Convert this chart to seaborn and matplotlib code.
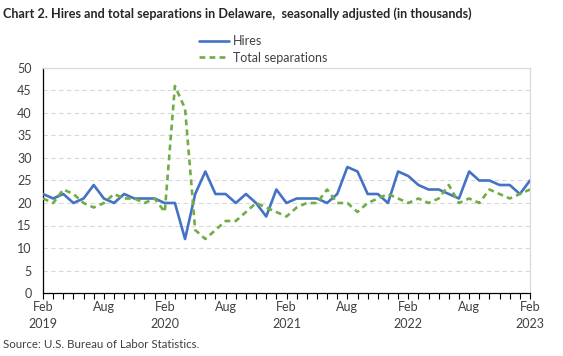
import numpy as np
import pandas as pd
import matplotlib
matplotlib.use("Agg")
import matplotlib.pyplot as plt
import seaborn as sns
from matplotlib.lines import Line2D

months = pd.date_range("2019-02-01", "2023-02-01", freq="MS")
hires = [22, 21, 22, 20, 21, 24, 21, 20, 22, 21, 21, 21,
         20, 20, 12, 22, 27, 22, 22, 20, 22, 20, 17, 23,
         20, 21, 21, 21, 20, 22, 28, 27, 22, 22, 20, 27,
         26, 24, 23, 23, 22, 21, 27, 25, 25, 24, 24, 22,
         25]
separations = [21, 20, 23, 22, 20, 19, 20, 22, 21, 21, 20, 21,
               18, 46, 41, 14, 12, 14, 16, 16, 18, 20, 19, 18,
               17, 19, 20, 20, 23, 20, 20, 18, 20, 21, 22, 21,
               20, 21, 20, 21, 24, 20, 21, 20, 23, 22, 21, 22,
               23]
series_names = ["Hires", "Total separations"]
yticks = list(range(0, 55, 5))
title = "Chart 2. Hires and total separations in Delaware,  seasonally adjusted (in thousands)"
source = "Source: U.S. Bureau of Labor Statistics."

idx = np.arange(len(months))
df = pd.DataFrame({
    "idx": np.concatenate([idx, idx]),
    "value": hires + separations,
    "series": [series_names[0]] * len(idx) + [series_names[1]] * len(idx),
})

sns.set_theme(style="white")
plt.rcParams["font.family"] = ["Lato", "DejaVu Sans"]

fig = plt.figure(figsize=(5.63, 3.56), dpi=100)
ax = fig.add_axes([43 / 563, 1 - 293 / 356, (530 - 43) / 563, (293 - 68) / 356])

sns.lineplot(data=df, x="idx", y="value", hue="series", style="series",
             palette={"Hires": "#4472C4", "Total separations": "#70AD47"},
             dashes={"Hires": "", "Total separations": (2.2, 1.6)},
             linewidth=1.9, ax=ax, legend=False, zorder=3)

ax.set_xlim(0, len(idx) - 1)
ax.set_ylim(0, 50)
ax.set_yticks(yticks)
ax.set_yticklabels([str(t) for t in yticks], fontsize=9, color="#404040")
major = idx[::6]
ax.set_xticks(major)
ax.set_xticklabels([f"{m.strftime('%b')}\n{m.year}" if m.month == 2 else m.strftime('%b')
                    for m in months[::6]], fontsize=9, color="#404040", linespacing=1.5)
ax.set_xticks(idx, minor=True)
ax.tick_params(axis="x", which="both", direction="out", length=4, width=0.8,
               color="black", bottom=True, pad=2)
ax.tick_params(axis="y", length=0, pad=8)
ax.set_xlabel("")
ax.set_ylabel("")

for y in yticks[1:-1]:
    ax.axhline(y, color="#d9d9d9", lw=0.8, ls=(0, (4, 3)), zorder=1)

ax.spines["left"].set_color("black")
ax.spines["bottom"].set_color("black")
ax.spines["left"].set_linewidth(0.9)
ax.spines["bottom"].set_linewidth(0.9)
ax.spines["top"].set_color("#d9d9d9")
ax.spines["right"].set_color("#d9d9d9")
ax.spines["top"].set_linewidth(0.9)
ax.spines["right"].set_linewidth(0.9)

handles = [Line2D([], [], color="#4472C4", lw=1.9),
           Line2D([], [], color="#70AD47", lw=1.9, ls=(0, (2.2, 1.6)))]
fig.legend(handles, series_names, loc="upper left",
           bbox_to_anchor=(188 / 563, 1 - 24 / 356), frameon=False,
           fontsize=9, handlelength=2.4, handletextpad=0.3, labelspacing=0.35,
           labelcolor="#404040")

fig.text(3 / 563, 1 - 14 / 356, title, fontsize=9.1, fontweight="bold",
         color="#262626", va="center", ha="left")
fig.text(3 / 563, 1 - 345 / 356, source, fontsize=8.3, color="#404040",
         va="center", ha="left")

fig.savefig("out.png", dpi=100)
